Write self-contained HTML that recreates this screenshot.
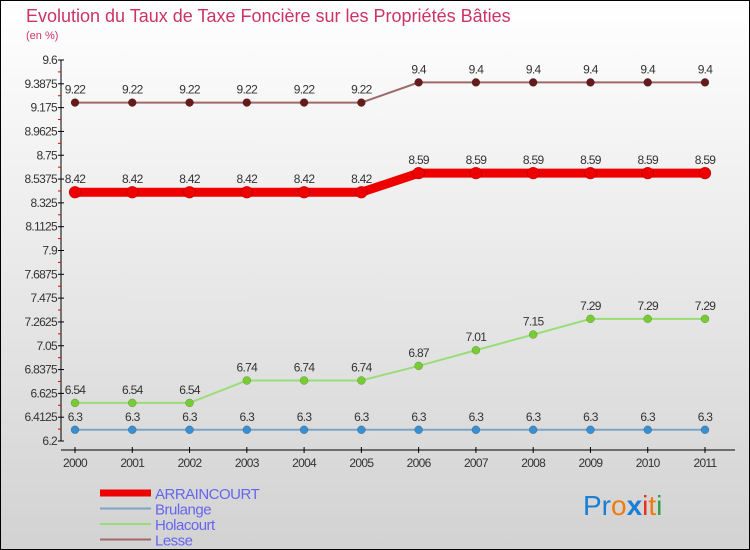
<!DOCTYPE html>
<html><head><meta charset="utf-8"><style>
body{margin:0;}
svg{display:block;font-family:"Liberation Sans",sans-serif;}
</style></head><body>
<svg id="c" width="750" height="550" xmlns="http://www.w3.org/2000/svg">
<defs><linearGradient id="bg" x1="0" y1="0" x2="0" y2="1"><stop offset="0" stop-color="#ffffff"/><stop offset="1" stop-color="#d2d2d2"/></linearGradient></defs>
<rect x="0.5" y="0.5" width="749" height="549" fill="url(#bg)" stroke="#000"/>
<text x="26" y="22" font-size="18" fill="#cc3366" style="font-weight:300">Evolution du Taux de Taxe Foncière sur les Propriétés Bâties</text>
<text x="26" y="39" font-size="11" fill="#cc3366">(en %)</text>
<g id="axes"></g>
<g id="series"></g>
<g id="legend"></g>
<text x="583" y="515" font-size="28" font-weight="normal"><tspan fill="#1a7fd4">Pr</tspan><tspan fill="#f07a10">o</tspan><tspan fill="#1a7fd4" font-weight="bold">x</tspan><tspan fill="#e53020">i</tspan><tspan fill="#f07a10">t</tspan><tspan fill="#2ea04a">i</tspan></text>
</svg>
<script>
const years=[2000,2001,2002,2003,2004,2005,2006,2007,2008,2009,2010,2011];
const yTicks=[6.2,6.4125,6.625,6.8375,7.05,7.2625,7.475,7.6875,7.9,8.1125,8.325,8.5375,8.75,8.9625,9.175,9.3875,9.6];
const arraincourt=[8.42,8.42,8.42,8.42,8.42,8.42,8.59,8.59,8.59,8.59,8.59,8.59];
const brulange=[6.3,6.3,6.3,6.3,6.3,6.3,6.3,6.3,6.3,6.3,6.3,6.3];
const holacourt=[6.54,6.54,6.54,6.74,6.74,6.74,6.87,7.01,7.15,7.29,7.29,7.29];
const lesse=[9.22,9.22,9.22,9.22,9.22,9.22,9.4,9.4,9.4,9.4,9.4,9.4];
const NS="http://www.w3.org/2000/svg";
const yMin=6.2,yMax=9.6,yTop=60,yBot=441;
function X(i){return 75+i*(705-75)/(years.length-1);}
function Y(v){return yBot-(v-yMin)/(yMax-yMin)*(yBot-yTop);}
function mk(t,a,p){const e=document.createElementNS(NS,t);for(const k in a)e.setAttribute(k,a[k]);p.appendChild(e);return e;}
const ax=document.getElementById('axes');
const ya=mk('line',{x1:61,y1:yTop,x2:61,y2:yBot,stroke:'#000'},ax);


yTicks.forEach((v,i)=>{
  const y=Y(v);
  const t=mk('line',{x1:58,y1:y,x2:64,y2:y,stroke:'#000'},ax);
  
  
  const l=mk('text',{x:57,y:y+4,'font-size':12,'text-anchor':'end',fill:'#333','letter-spacing':'-0.7'},ax);
  l.textContent=v;
  
  
  if(i<yTicks.length-1){
    const m=mk('line',{x1:58,y1:(y+Y(yTicks[i+1]))/2,x2:61,y2:(y+Y(yTicks[i+1]))/2,stroke:'#e00'},ax);
    
    
  }
});
const xa=mk('line',{x1:61,y1:450,x2:735,y2:450,stroke:'#000'},ax);


years.forEach((yr,i)=>{
  const t=mk('line',{x1:X(i),y1:447,x2:X(i),y2:453,stroke:'#000'},ax);
  
  
  const l=mk('text',{x:X(i),y:467,'font-size':12,'text-anchor':'middle',fill:'#333','letter-spacing':'-0.7'},ax);
  l.textContent=yr;
  
  
});
const sg=document.getElementById('series');
function draw(name,data,color,w,r,dot){
  const g=mk('g',{},sg);
  
  
  const pl=mk('polyline',{points:data.map((v,i)=>X(i)+','+Y(v)).join(' '),fill:'none',stroke:color,'stroke-width':w},g);
  
  
  data.forEach((v,i)=>{
    const c=mk('circle',{cx:X(i),cy:Y(v),r:r,fill:dot,stroke:'rgba(0,0,0,0.3)','stroke-width':0.5},g);
    
    
    const t=mk('text',{x:X(i),y:Y(v)-9,'font-size':12,'text-anchor':'middle',fill:'#333','letter-spacing':'-0.7'},g);
    t.textContent=v;
    
    
  });
}
draw('brulange',brulange,'#7ba4c8',2,4,'#3a8fd0');
draw('holacourt',holacourt,'#99dd77',2,4,'#77cc33');
draw('lesse',lesse,'#a06a6a',2,4,'#661a1a');
draw('arraincourt',arraincourt,'#ee0000',9,6,'#ee0000');
const lg=document.getElementById('legend');
[['ARRAINCOURT','#ee0000',7],['Brulange','#7ba4c8',2],['Holacourt','#99dd77',2],['Lesse','#a06a6a',2]].forEach((d,i)=>{
  const y=493+i*15.5;
  const g=mk('g',{},lg);
  
  
  mk('line',{x1:100,y1:y,x2:151,y2:y,stroke:d[1],'stroke-width':d[2]},g);
  const t=mk('text',{x:155,y:y+6,'font-size':15,fill:'#6666ee','letter-spacing':'-0.5'},g);
  t.textContent=d[0];
});
</script>
</body></html>
